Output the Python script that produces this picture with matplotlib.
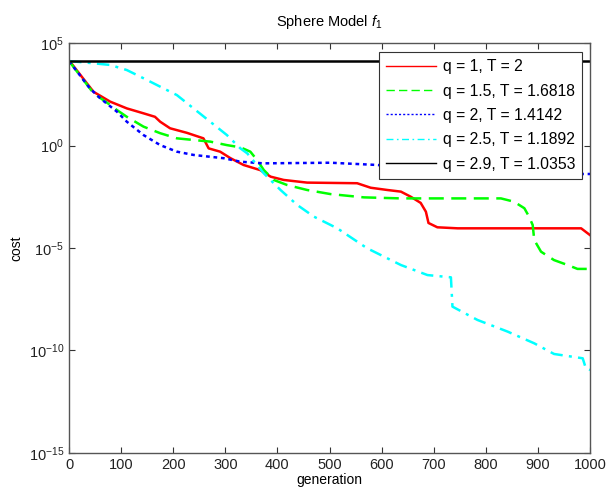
import matplotlib
matplotlib.use('Agg')
import matplotlib.pyplot as plt

plt.rcParams['font.family'] = ['Liberation Sans', 'DejaVu Sans']
plt.rcParams['mathtext.fontset'] = 'custom'
plt.rcParams['mathtext.rm'] = 'Liberation Sans'
plt.rcParams['mathtext.it'] = 'Liberation Sans:italic'

# values: generation, log10(cost)
red_gen = [0, 2, 47, 79, 111, 143, 165, 175, 194, 226, 258, 268, 290, 310, 335, 367, 387, 412, 457,
           553, 579, 611, 637, 656, 675, 685, 690, 707, 746, 983, 1000]
red_log = [4.12, 4.09, 2.62, 2.14, 1.81, 1.57, 1.40, 1.16, 0.84, 0.62, 0.35, -0.14, -0.30, -0.62, -0.95,
           -1.20, -1.52, -1.68, -1.81, -1.84, -2.06, -2.17, -2.25, -2.50, -2.80, -3.23, -3.78, -3.99,
           -4.04, -4.04, -4.37]

green_gen = [0, 47, 79, 92, 111, 143, 175, 207, 239, 271, 303, 329, 348, 361, 374, 393, 419, 457, 502,
             566, 637, 829, 854, 874, 883, 890, 893, 906, 931, 957, 976, 1000]
green_log = [4.12, 2.55, 1.98, 1.73, 1.40, 0.92, 0.60, 0.35, 0.27, 0.19, 0.02, -0.09, -0.30, -0.71,
             -1.20, -1.68, -1.93, -2.17, -2.37, -2.53, -2.58, -2.58, -2.74, -3.06, -3.47, -3.88, -4.61,
             -5.18, -5.59, -5.83, -6.02, -6.02]

blue_gen = [0, 40, 60, 92, 111, 143, 175, 207, 239, 271, 297, 329, 373, 502, 592, 700, 752, 988, 1000]
blue_log = [4.12, 2.79, 2.30, 1.65, 1.16, 0.51, 0.02, -0.30, -0.46, -0.55, -0.62, -0.79, -0.87, -0.84,
            -0.95, -1.20, -1.28, -1.39, -1.39]

cyan_gen = [0, 47, 79, 111, 143, 175, 207, 239, 271, 303, 329, 342, 374, 406, 438, 470, 515, 572, 637,
            688, 733, 736, 784, 842, 893, 931, 986, 992, 1000]
cyan_log = [4.12, 4.01, 3.93, 3.68, 3.28, 2.87, 2.46, 1.81, 1.16, 0.51, -0.14, -0.38, -1.36, -2.17,
            -2.90, -3.47, -4.04, -5.01, -5.83, -6.32, -6.43, -7.86, -8.51, -9.08, -9.65, -10.17,
            -10.38, -10.87, -10.95]

black_gen = [0, 1000]
black_log = [4.12, 4.12]

labels = ['q = 1, T = 2', 'q = 1.5, T = 1.6818', 'q = 2, T = 1.4142',
          'q = 2.5, T = 1.1892', 'q = 2.9, T = 1.0353']

fig = plt.figure(figsize=(6.06, 4.99), dpi=100)
ax = fig.add_axes([0.1139, 0.0922, 0.8597, 0.8216])

series = [
    (red_gen, red_log, (1, 0, 0), '-'),
    (green_gen, green_log, (0, 1, 0), (0, (6, 3))),
    (blue_gen, blue_log, (0, 0, 1), (0, (1.5, 1.5))),
    (cyan_gen, cyan_log, (0, 1, 1), (0, (5, 2.5, 1.2, 2.5))),
    (black_gen, black_log, (0, 0, 0), '-'),
]
for (g, lg, c, ls), lab in zip(series, labels):
    ax.plot(g, [10 ** v for v in lg], color=c, linestyle=ls, linewidth=1.8, label=lab)

ax.set_yscale('log')
ax.set_xlim(0, 1000)
ax.set_ylim(1e-15, 1e5)
ax.set_xticks(range(0, 1001, 100))
ax.set_yticks([1e-15, 1e-10, 1e-5, 1e0, 1e5])
ax.set_yticklabels(['$10^{-15}$', '$10^{-10}$', '$10^{-5}$', '$10^{0}$', '$10^{5}$'])
ax.minorticks_off()
ax.tick_params(direction='in', top=True, right=True, labelsize=10.5, length=4, width=0.8,
               colors='#333333', labelcolor='#222222')
for s in ax.spines.values():
    s.set_color('#555555')
    s.set_linewidth(1.0)

ax.set_title('Sphere Model $\\mathit{f}_1$', fontsize=10.5, pad=12)
ax.set_xlabel('generation', fontsize=10, labelpad=1)
ax.set_ylabel('cost', fontsize=10, labelpad=4)

leg = ax.legend(loc='upper right', bbox_to_anchor=(0.985, 0.978), fontsize=11.3, fancybox=False,
                framealpha=1, edgecolor='#333333', handlelength=3.2, borderpad=0.45,
                labelspacing=0.6, handletextpad=0.4, borderaxespad=0)
leg.get_frame().set_linewidth(0.8)
for l in leg.get_lines():
    l.set_linewidth(1.0)

fig.savefig('out.png', dpi=100)
